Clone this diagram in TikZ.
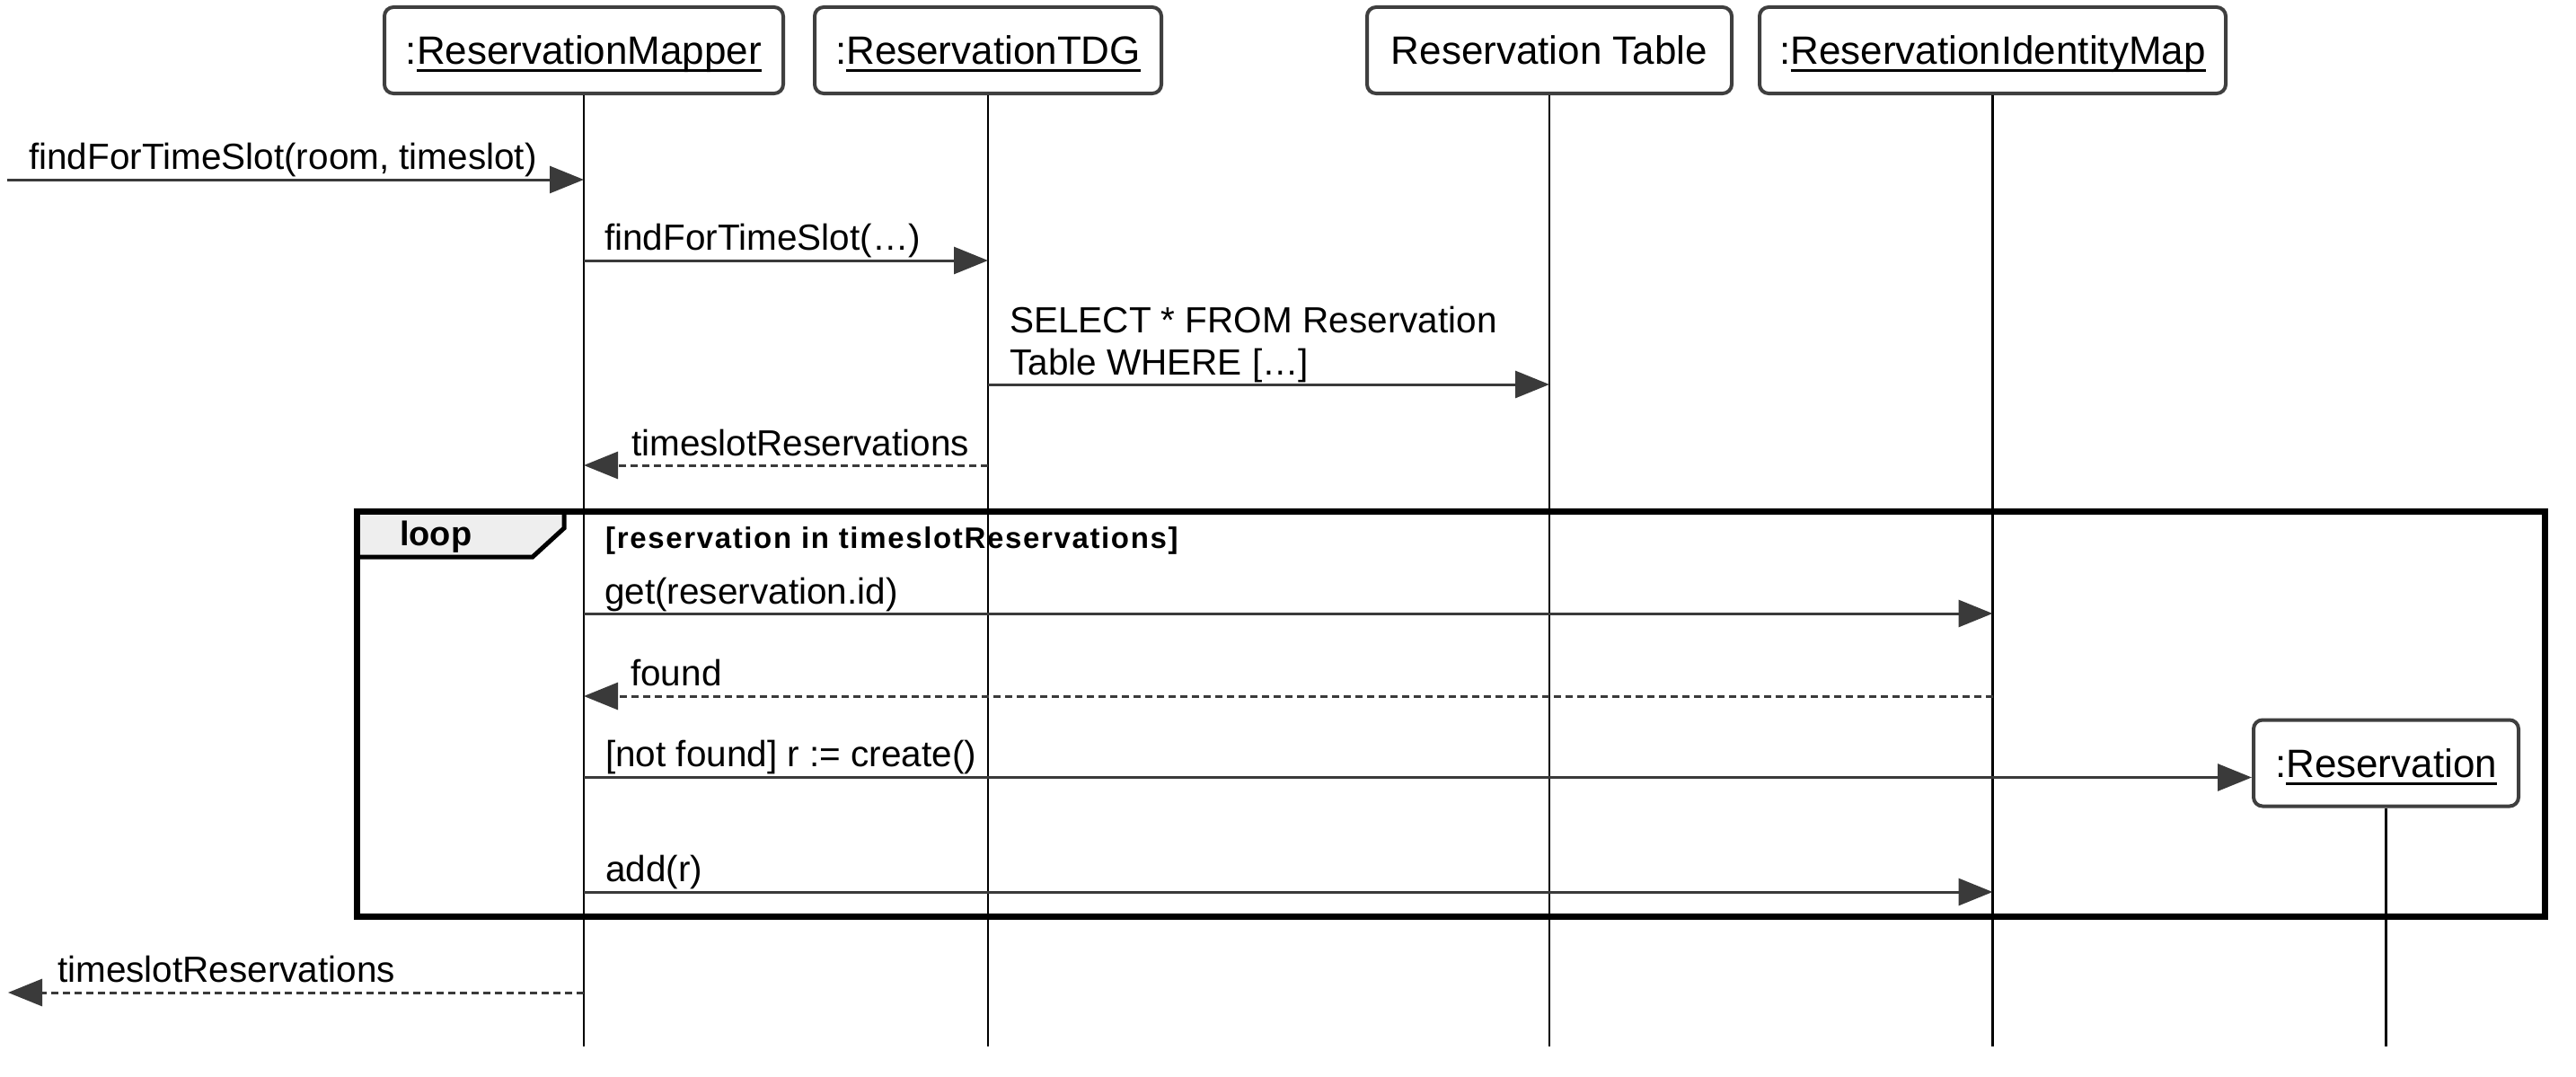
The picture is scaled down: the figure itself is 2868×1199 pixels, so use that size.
\documentclass[tikz,border=0pt]{standalone}
\usepackage{fontspec}
\setmainfont{Liberation Sans}
\usetikzlibrary{arrows.meta}
\newsavebox\ulbx
\newcommand\ulname[1]{\sbox\ulbx{#1}\rlap{\rule[-8pt]{\wd\ulbx}{3pt}}\usebox\ulbx}
\definecolor{boxgray}{HTML}{3F3F3F}
\definecolor{msggray}{HTML}{3A3A3A}
\definecolor{tabfill}{HTML}{EEEEEE}
\begin{document}
\begin{tikzpicture}[x=1pt,y=-1pt,
  hdr/.style={draw=boxgray, line width=4pt, rounded corners=10pt, fill=white, inner sep=0pt,
    minimum height=96pt, text height=36pt, text depth=4pt, font=\fontsize{44}{50}\selectfont},
  life/.style={line width=2.5pt, black},
  msg/.style={draw=msggray, line width=3pt, -{Triangle[length=38pt,width=30pt,fill=msggray]}},
  ret/.style={msg, dash pattern=on 8pt off 5pt},
  lbl/.style={anchor=base west, inner sep=0pt, font=\fontsize{40.5}{47}\selectfont},
  framebox/.style={draw=black, line width=7pt},
]
\useasboundingbox (0,0) rectangle (2868,1199);
\fill[white] (0,0) rectangle (2868,1199);

% heads
\node[hdr, minimum width=444pt] (rm)  at (650,56)    {:\ulname{ReservationMapper}};
\node[hdr, minimum width=386pt] (tdg) at (1100,56)   {:\ulname{ReservationTDG}};
\node[hdr, minimum width=406pt] (tab) at (1725,56)   {Reservation Table};
\node[hdr, minimum width=519pt] (im)  at (2218.5,56) {:\ulname{ReservationIdentityMap}};
\node[hdr, minimum width=295pt] (res) at (2656.5,849.5) {:\ulname{Reservation}};

% lifelines
\coordinate (bottom) at (0,1165);
\draw[life] (rm.south)  -- (rm.south |- bottom);
\draw[life] (tdg.south) -- (tdg.south |- bottom);
\draw[life] (tab.south) -- (tab.south |- bottom);
\draw[life] (im.south)  -- (im.south |- bottom);
\draw[life] (res.south) -- (res.south |- bottom);

% loop frame
\fill[tabfill] (397,569) -- (628,569) -- (628,588) -- (593,620) -- (397,620) -- cycle;
\draw[framebox] (397,569) rectangle (2833,1020);
\draw[draw=black, line width=5pt, line join=miter] (628,569) -- (628,588) -- (593,620) -- (397,620);
\node[anchor=base west, inner sep=0pt, font=\fontsize{38}{44}\selectfont\bfseries] (looplbl) at (445,607) {loop};
\node[anchor=base west, inner sep=0pt, font=\fontsize{33}{38}\selectfont\bfseries\addfontfeature{LetterSpace=5}] (guard) at (674,610) {[reservation in timeslotReservations]};

% messages
\coordinate (in1) at (8,200);
\draw[msg] (in1) -- (rm.south |- in1);
\node[lbl] (l1) at (32,188) {findForTimeSlot(room, timeslot)};

\coordinate (y2) at (0,290);
\draw[msg] (rm.south |- y2) -- (tdg.south |- y2);
\node[lbl] (l2) at (673,278) {findForTimeSlot(…)};

\coordinate (y3) at (0,428);
\draw[msg] (tdg.south |- y3) -- (tab.south |- y3);
\node[lbl] (l3a) at (1124,370) {SELECT * FROM Reservation};
\node[lbl] (l3b) at (1124,417) {Table WHERE […]};

\coordinate (y4) at (0,518);
\draw[ret] (tdg.south |- y4) -- (rm.south |- y4);
\node[lbl] (l4) at (703,507) {timeslotReservations};

\coordinate (y5) at (0,683);
\draw[msg] (rm.south |- y5) -- (im.south |- y5);
\node[lbl] (l5) at (673,672) {get(reservation.id)};

\coordinate (y6) at (0,775);
\draw[ret] (im.south |- y6) -- (rm.south |- y6);
\node[lbl] (l6) at (702,763) {found};

\draw[msg] (rm.south |- res.base west) -- (res.base west);
\node[lbl] (l7) at (674,853) {[not found] r := create()};

\coordinate (y8) at (0,993);
\draw[msg] (rm.south |- y8) -- (im.south |- y8);
\node[lbl] (l8) at (674,981) {add(r)};

\coordinate (out9) at (9,1105);
\draw[ret] (rm.south |- out9) -- (out9);
\node[lbl] (l9) at (64,1093) {timeslotReservations};
\end{tikzpicture}
\end{document}
